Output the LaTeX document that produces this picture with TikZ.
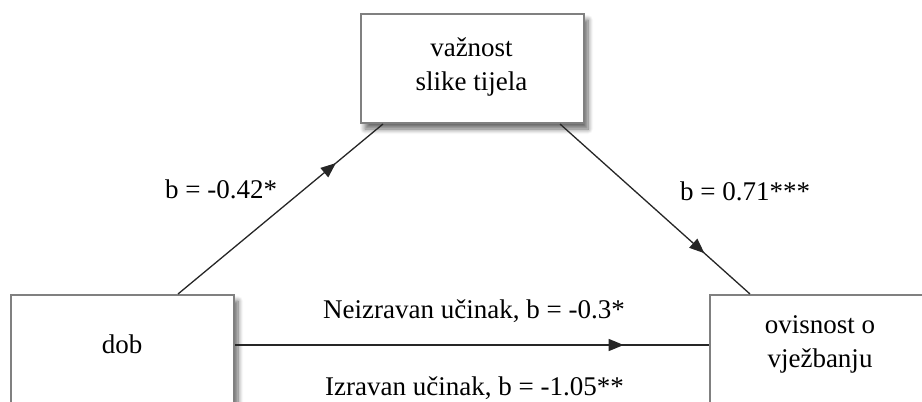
\documentclass[tikz,border=0pt]{standalone}
\usepackage{fontspec}
\setmainfont{Liberation Serif}
\usetikzlibrary{arrows.meta,decorations.markings,shadows.blur}
\tikzset{
  box/.style={draw=black!50, line width=2pt, fill=white, rectangle, inner sep=0pt,
    blur shadow={shadow xshift=4pt, shadow yshift=-6pt, shadow blur steps=8, shadow blur radius=5pt, shadow opacity=60}},
  lbl/.style={inner sep=0pt, anchor=base west, font=\fontsize{27}{34}\selectfont},
  ctext/.style={inner sep=0pt, align=center, anchor=base, font=\fontsize{27}{34}\selectfont},
  conn/.style={draw=black!85, line width=1.3pt, postaction=decorate},
}
\begin{document}
\begin{tikzpicture}[x=1pt,y=-1pt]
\useasboundingbox (0,0) rectangle (922,402);
% boxes
\node[box, anchor=north west, minimum width=223pt, minimum height=109pt] (top) at (360,13) {};
\node[box, anchor=north west, minimum width=223pt, minimum height=140pt] (dob) at (10,294) {};
\node[box, anchor=north west, minimum width=240pt, minimum height=140pt] (ovis) at (709,294) {};
% box texts (base = last line)
\node[ctext] (toptxt) at (471.5,90) {važnost\\slike tijela};
\node[ctext] (dobtxt) at (122,353) {dob};
\node[ctext] (ovistxt) at (820,367) {ovisnost o\\vježbanju};
% connectors
\draw[conn, decoration={markings, mark=at position 0.77 with {\arrow{Triangle[length=15pt,width=12pt]}}}]
  ([xshift=168pt]dob.north west) -- ([xshift=23pt]top.south west);
\draw[conn, decoration={markings, mark=at position 0.76 with {\arrow{Triangle[length=15pt,width=12pt]}}}]
  ([xshift=-25pt]top.south east) -- ([xshift=41pt]ovis.north west);
\draw[conn, decoration={markings, mark=at position 0.82 with {\arrow{Triangle[length=15pt,width=12pt]}}}]
  (dob.east |- 0,345) -- (ovis.west |- 0,345);
% labels
\node[lbl] (l1) at (165,198) {b = -0.42*};
\node[lbl] (l2) at (680,200) {b = 0.71***};
\node[lbl] (l3) at (323,318) {Neizravan učinak, b = -0.3*};
\node[lbl] (l4) at (325,395) {Izravan učinak, b = -1.05**};
\end{tikzpicture}
\end{document}
